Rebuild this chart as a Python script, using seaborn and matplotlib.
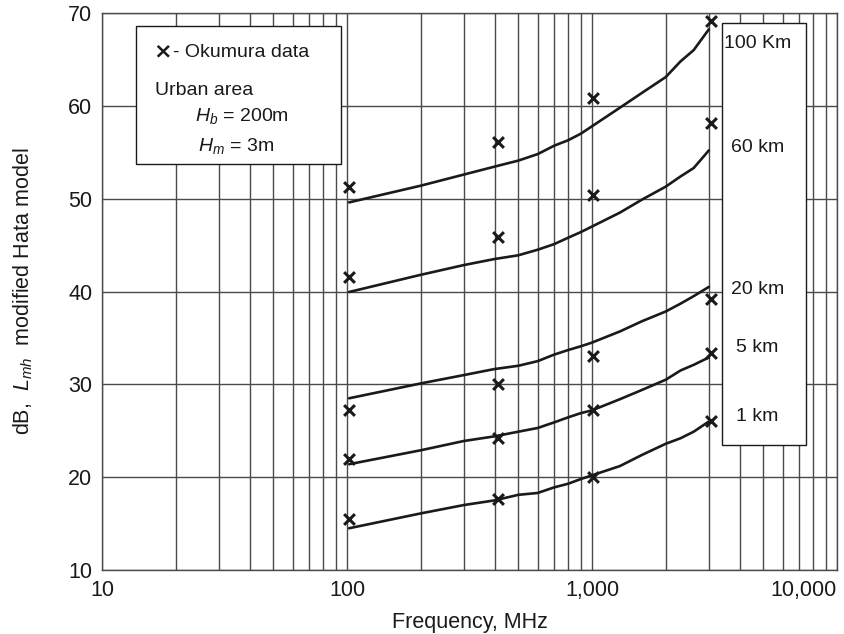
"""Modified Hata model vs Okumura data, urban area (Hb = 200 m, Hm = 3 m)."""
import numpy as np
import pandas as pd
import matplotlib
matplotlib.use("Agg")
import matplotlib.pyplot as plt
from matplotlib.patches import Rectangle
from matplotlib.ticker import FixedLocator, NullFormatter
import seaborn as sns

# --- data ---
DISTANCES = ["100 Km", "60 km", "20 km", "5 km", "1 km"]

FREQ_CURVE = [102, 200, 300, 400, 500, 600, 700, 800, 900, 1000,
              1300, 1600, 2000, 2300, 2600, 3000]
HATA_100 = [49.6, 51.4, 52.6, 53.45, 54.1, 54.8, 55.7, 56.3, 57.0, 57.8,
            59.8, 61.4, 63.1, 64.8, 66.0, 68.25]
HATA_60 = [39.95, 41.8, 42.85, 43.5, 43.9, 44.5, 45.1, 45.8, 46.4, 47.0,
           48.5, 49.9, 51.3, 52.4, 53.3, 55.2]
HATA_20 = [28.5, 30.1, 31.0, 31.65, 32.0, 32.5, 33.2, 33.7, 34.1, 34.5,
           35.7, 36.8, 37.85, 38.7, 39.5, 40.5]
HATA_5 = [21.4, 22.9, 23.9, 24.4, 24.9, 25.3, 25.9, 26.45, 26.9, 27.2,
          28.4, 29.4, 30.5, 31.5, 32.1, 32.9]
HATA_1 = [14.5, 16.1, 17.0, 17.5, 18.1, 18.3, 18.9, 19.3, 19.8, 20.2,
          21.2, 22.4, 23.6, 24.2, 24.9, 26.0]

FREQ_OKU = [102, 415, 1010, 3050]
OKU_100 = [51.3, 56.1, 60.85, 69.1]
OKU_60 = [41.6, 45.9, 50.4, 58.15]
OKU_20 = [27.2, 30.0, 33.05, 39.2]
OKU_5 = [21.95, 24.2, 27.2, 33.4]
OKU_1 = [15.5, 17.65, 20.0, 26.05]

XTICKS = [10, 100, 1000, 10000]
XTICKLABELS = ["10", "100", "1,000", "10,000"]
YTICKS = [10, 20, 30, 40, 50, 60, 70]

hata = pd.concat([
    pd.DataFrame({"freq": FREQ_CURVE, "loss": v, "dist": d})
    for d, v in zip(DISTANCES, [HATA_100, HATA_60, HATA_20, HATA_5, HATA_1])
])
oku = pd.concat([
    pd.DataFrame({"freq": FREQ_OKU, "loss": v, "dist": d})
    for d, v in zip(DISTANCES, [OKU_100, OKU_60, OKU_20, OKU_5, OKU_1])
])

sns.set_theme(style="white")
plt.rcParams["font.family"] = ["Liberation Sans", "DejaVu Sans"]
plt.rcParams["mathtext.fontset"] = "custom"
plt.rcParams["mathtext.rm"] = "Liberation Sans"
plt.rcParams["mathtext.it"] = "Liberation Sans:italic"

FS = 15.5      # ticks / axis labels
FS_BOX = 14    # text inside the boxes

fig = plt.figure(figsize=(8.44, 6.34), dpi=100)
ax = fig.add_axes([0.1209, 0.1009, 0.8708, 0.8786])

black = "#1a1a1a"
sns.lineplot(data=hata, x="freq", y="loss", units="dist", estimator=None,
             color=black, lw=1.9, ax=ax, zorder=3)
sns.scatterplot(data=oku, x="freq", y="loss", marker="x", color=black,
                s=60, linewidth=2.2, ax=ax, zorder=4)

ax.set_xscale("log")
ax.set_xlim(10, 10000)
ax.set_ylim(10, 70)
ax.set_xticks(XTICKS)
ax.set_xticklabels(XTICKLABELS)
minor = [m * 10 ** e for e in range(1, 4) for m in range(2, 10)]
ax.xaxis.set_minor_locator(FixedLocator(minor))
ax.xaxis.set_minor_formatter(NullFormatter())
ax.set_yticks(YTICKS)
ax.tick_params(axis="both", which="both", length=0, labelsize=FS,
               colors=black, pad=7)
for lab in ax.get_xticklabels():
    if lab.get_text() == "10,000":
        lab.set_horizontalalignment("right")
ax.grid(which="both", axis="x", color="#4a4a4a", lw=1.0)
ax.grid(which="major", axis="y", color="#4a4a4a", lw=1.0)
for sp in ax.spines.values():
    sp.set_color("#4a4a4a")
    sp.set_linewidth(1.0)

ax.set_xlabel("Frequency, MHz", fontsize=FS, color=black, labelpad=8)
ax.set_ylabel(r"dB,  $L_{mh}$  modified Hata model", fontsize=FS,
              color=black, labelpad=24)

# legend/parameter box (upper left)
ax.add_patch(Rectangle((0.0463, 0.729), 0.279, 0.248, transform=ax.transAxes,
                       facecolor="white", edgecolor=black, lw=1.0, zorder=5))
ax.text(0.070, 0.921, "×", transform=ax.transAxes, fontsize=FS_BOX + 2,
        fontweight="bold", va="baseline", ha="left", color=black, zorder=6,
        family=["DejaVu Sans"])
ax.text(0.096, 0.921, "- Okumura data", transform=ax.transAxes,
        fontsize=FS_BOX, va="baseline", ha="left", color=black, zorder=6)
ax.text(0.072, 0.853, "Urban area", transform=ax.transAxes, fontsize=FS_BOX,
        va="baseline", ha="left", color=black, zorder=6)
ax.text(0.1265, 0.806, r"$H_b$ = 200m", transform=ax.transAxes,
        fontsize=FS_BOX, va="baseline", ha="left", color=black, zorder=6)
ax.text(0.1306, 0.752, r"$H_m$ = 3m", transform=ax.transAxes,
        fontsize=FS_BOX, va="baseline", ha="left", color=black, zorder=6)

# distance labels box (right)
ax.add_patch(Rectangle((0.8435, 0.2244), 0.1145, 0.7576, transform=ax.transAxes,
                       facecolor="white", edgecolor=black, lw=1.0, zorder=5))
label_y = [0.946, 0.758, 0.503, 0.399, 0.275]
for name, yy in zip(DISTANCES, label_y):
    ax.text(0.892, yy, name, transform=ax.transAxes, fontsize=FS_BOX,
            va="center", ha="center", color=black, zorder=6)

fig.savefig("out.png", dpi=100)
